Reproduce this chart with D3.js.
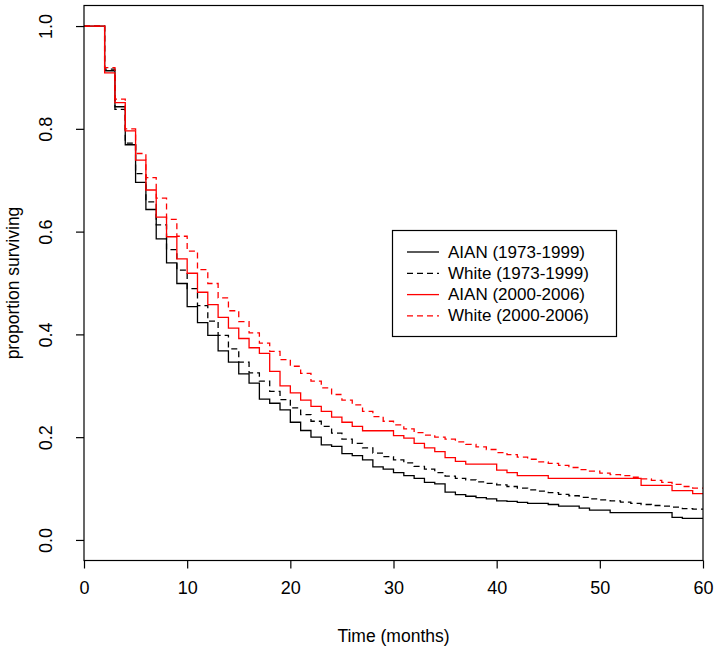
<!DOCTYPE html>
<html>
<head>
<meta charset="utf-8">
<script src="https://cdn.jsdelivr.net/npm/d3@7"></script>
<style>
  body { margin: 0; background: #fff; }
  text { font-family: "Liberation Sans", Arial, Helvetica, sans-serif; }
</style>
</head>
<body>
<script>
// months at which the step curves change (last step runs to 60)
var months = [0, 2, 3, 4, 5, 6, 7, 8, 9, 10, 11, 12, 13, 14, 15, 16, 17, 18, 19, 20,
  21, 22, 23, 24, 25, 26, 27, 28, 29, 30, 31, 32, 33, 34, 35, 36, 37, 38, 39, 40,
  41, 42, 43, 44, 45, 46, 47, 48, 49, 50, 51, 52, 53, 54, 55, 56, 57, 58, 59];

var aianOld = [1, 0.913, 0.843, 0.769, 0.696, 0.643, 0.586, 0.539, 0.499, 0.454,
  0.423, 0.398, 0.368, 0.346, 0.323, 0.305, 0.274, 0.266, 0.253, 0.229,
  0.213, 0.200, 0.185, 0.182, 0.168, 0.164, 0.156, 0.142, 0.138, 0.131,
  0.125, 0.120, 0.112, 0.109, 0.093, 0.088, 0.085, 0.0825, 0.080, 0.076,
  0.075, 0.073, 0.071, 0.071, 0.069, 0.066, 0.066, 0.062, 0.058, 0.058,
  0.053, 0.053, 0.053, 0.053, 0.053, 0.053, 0.044, 0.042, 0.042];

var whiteOld = [1, 0.916, 0.838, 0.772, 0.713, 0.658, 0.613, 0.565, 0.525, 0.489,
  0.456, 0.426, 0.398, 0.372, 0.346, 0.325, 0.309, 0.289, 0.273, 0.257,
  0.244, 0.231, 0.221, 0.208, 0.196, 0.188, 0.179, 0.169, 0.162, 0.156,
  0.150, 0.143, 0.138, 0.131, 0.124, 0.120, 0.117, 0.113, 0.110, 0.107,
  0.104, 0.101, 0.0975, 0.095, 0.092, 0.0885, 0.086, 0.083, 0.080, 0.078,
  0.076, 0.0735, 0.071, 0.069, 0.067, 0.066, 0.064, 0.061, 0.060];

var aianNew = [1, 0.909, 0.851, 0.796, 0.739, 0.681, 0.628, 0.590, 0.547, 0.519,
  0.482, 0.458, 0.433, 0.412, 0.392, 0.374, 0.363, 0.328, 0.300, 0.286,
  0.272, 0.260, 0.250, 0.239, 0.229, 0.221, 0.2125, 0.2125, 0.2125, 0.203,
  0.198, 0.188, 0.179, 0.172, 0.160, 0.153, 0.1475, 0.1475, 0.1475, 0.136,
  0.131, 0.125, 0.125, 0.125, 0.120, 0.120, 0.120, 0.120, 0.120, 0.120,
  0.120, 0.120, 0.120, 0.106, 0.106, 0.106, 0.096, 0.096, 0.090];

var whiteNew = [1, 0.919, 0.858, 0.800, 0.752, 0.705, 0.665, 0.624, 0.591, 0.562,
  0.526, 0.499, 0.471, 0.446, 0.425, 0.403, 0.383, 0.367, 0.351, 0.338,
  0.324, 0.309, 0.296, 0.283, 0.272, 0.263, 0.250, 0.240, 0.231, 0.224,
  0.216, 0.209, 0.204, 0.200, 0.196, 0.191, 0.186, 0.181, 0.176, 0.170,
  0.166, 0.161, 0.157, 0.152, 0.149, 0.145, 0.141, 0.137, 0.134, 0.130,
  0.127, 0.125, 0.122, 0.119, 0.116, 0.112, 0.108, 0.104, 0.101];

var seriesNames = ["AIAN (1973-1999)", "White (1973-1999)", "AIAN (2000-2006)", "White (2000-2006)"];
var seriesValues = [aianOld, whiteOld, aianNew, whiteNew];
var seriesColors = ["#000000", "#000000", "#ff0000", "#ff0000"];
var seriesDash = [null, "6,4", null, "6,4"];

var xTicks = [0, 10, 20, 30, 40, 50, 60];
var yTicks = [0, 0.2, 0.4, 0.6, 0.8, 1.0];

var width = 717, height = 652;
// plot region (named so as not to clash with window.top)
var pLeft = 84, pRight = 703, pTop = 5.5, pBottom = 560.5;

var svg = d3.select('body').append('svg')
    .attr('width', width)
    .attr('height', height);

var x = d3.scaleLinear().domain([0, 60]).range([pLeft, pRight]);
var y = d3.scaleLinear().domain([-0.04, 1.04]).range([pBottom, pTop]);

// curves
var line = d3.line()
    .x(function (d) { return x(d[0]); })
    .y(function (d) { return y(d[1]); })
    .curve(d3.curveStepAfter);

seriesValues.forEach(function (vals, k) {
    var pts = months.map(function (m, i) { return [m, vals[i]]; });
    pts.push([60, vals[vals.length - 1]]);
    svg.append('path')
        .attr('d', line(pts))
        .attr('fill', 'none')
        .attr('stroke', seriesColors[k])
        .attr('stroke-width', 1.3)
        .attr('stroke-dasharray', seriesDash[k]);
});

// box
svg.append('rect')
    .attr('x', pLeft).attr('y', pTop)
    .attr('width', pRight - pLeft).attr('height', pBottom - pTop)
    .attr('fill', 'none').attr('stroke', '#000').attr('stroke-width', 1.2);

// x axis
var xAxis = svg.append('g')
    .attr('transform', 'translate(0,' + pBottom + ')')
    .call(d3.axisBottom(x).tickValues(xTicks).tickSize(8).tickPadding(13).tickFormat(d3.format('d')));
xAxis.select('.domain').remove();
xAxis.selectAll('line').attr('stroke-width', 1.2);
xAxis.selectAll('text').attr('font-size', 18).attr('fill', '#000');

// y axis
var yAxis = svg.append('g')
    .attr('transform', 'translate(' + pLeft + ',0)')
    .call(d3.axisLeft(y).tickValues(yTicks).tickSize(8).tickFormat(d3.format('.1f')));
yAxis.select('.domain').remove();
yAxis.selectAll('line').attr('stroke-width', 1.2);
yAxis.selectAll('text')
    .attr('font-size', 18).attr('fill', '#000')
    .attr('x', 0).attr('y', 0).attr('dy', null)
    .attr('text-anchor', 'middle')
    .attr('dominant-baseline', 'central')
    .attr('transform', 'translate(-38,0) rotate(-90)');

// axis titles
svg.append('text')
    .attr('x', (pLeft + pRight) / 2).attr('y', 642)
    .attr('text-anchor', 'middle').attr('font-size', 17.5)
    .text('Time (months)');

svg.append('text')
    .attr('transform', 'translate(19,' + ((pTop + pBottom) / 2) + ') rotate(-90)')
    .attr('text-anchor', 'middle').attr('font-size', 17.5)
    .text('proportion surviving');

// legend
var legend = svg.append('g');
legend.append('rect')
    .attr('x', 392.5).attr('y', 230.5)
    .attr('width', 224).attr('height', 106)
    .attr('fill', '#fff').attr('stroke', '#000').attr('stroke-width', 1.2);

seriesNames.forEach(function (name, k) {
    var ly = 252 + k * 21.3;
    legend.append('line')
        .attr('x1', 407).attr('x2', 439)
        .attr('y1', ly).attr('y2', ly)
        .attr('stroke', seriesColors[k]).attr('stroke-width', 1.3)
        .attr('stroke-dasharray', seriesDash[k]);
    legend.append('text')
        .attr('x', 448).attr('y', ly)
        .attr('dominant-baseline', 'central')
        .attr('font-size', 17)
        .text(name);
});
</script>
</body>
</html>
